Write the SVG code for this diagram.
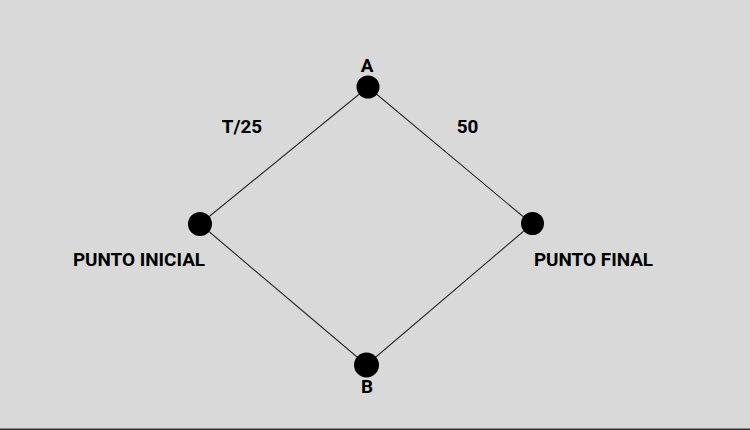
<svg xmlns="http://www.w3.org/2000/svg" width="750" height="430" viewBox="0 0 750 430">
<style>
.lbl{font-family:Roboto,"Liberation Sans",sans-serif;font-weight:bold;font-size:18.9px;fill:#000}
.dot{fill:#000}
.edge{stroke:#2a2a2a;stroke-width:1.1;fill:none}
</style>
<rect x="0" y="0" width="750" height="430" fill="#d9d9d9"/>
<rect x="0" y="428.5" width="750" height="1.5" fill="#333"/>
<g id="connectors">
<line class="edge" x1="368" y1="87" x2="200" y2="224"/>
<line class="edge" x1="368" y1="87" x2="532" y2="224"/>
<line class="edge" x1="200" y1="224" x2="366.5" y2="365"/>
<line class="edge" x1="366.5" y1="365" x2="532" y2="224"/>
</g>
<g id="edge-labels">
<text class="lbl" x="242" y="133" text-anchor="middle">T/25</text>
<text class="lbl" x="467.5" y="133" text-anchor="middle">50</text>
</g>
<g id="node-A">
<circle class="dot" cx="368" cy="87" r="11.5"/>
<text class="lbl" x="367" y="72" text-anchor="middle">A</text>
</g>
<g id="node-inicial">
<circle class="dot" cx="200" cy="224" r="12"/>
<text class="lbl" x="139" y="266" text-anchor="middle">PUNTO INICIAL</text>
</g>
<g id="node-final">
<circle class="dot" cx="532.5" cy="223.5" r="11.5"/>
<text class="lbl" x="593.5" y="266" text-anchor="middle">PUNTO FINAL</text>
</g>
<g id="node-B">
<circle class="dot" cx="366.5" cy="365" r="12.5"/>
<text class="lbl" x="367" y="393" text-anchor="middle">B</text>
</g>
</svg>
